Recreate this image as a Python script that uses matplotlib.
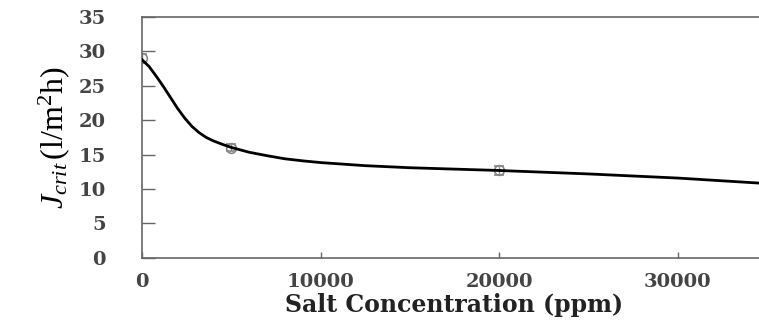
import matplotlib
matplotlib.use("Agg")
import matplotlib.pyplot as plt

plt.rcParams.update({
    "font.family": "DejaVu Serif",
    "mathtext.fontset": "custom",
    "mathtext.rm": "Liberation Serif",
    "mathtext.it": "Liberation Serif:italic",
})

# measured points with error bars
salt_ppm = [0, 5000, 20000, 35000]
j_crit = [29.0, 16.0, 12.7, 11.0]
j_err = [0.6, 0.5, 0.7, 0.4]

# fitted curve
curve_ppm = [0, 400, 800, 1200, 1600, 2000, 2400, 2800, 3200, 3600, 4000,
             4500, 5000, 5500, 6000, 7000, 8000, 9000, 10000, 12500, 15000,
             17500, 20000, 22500, 25000, 27500, 30000, 32500, 35000]
curve_j = [28.8, 27.8, 26.4, 24.9, 23.3, 21.7, 20.3, 19.1, 18.2, 17.5, 17.0,
           16.5, 16.05, 15.7, 15.35, 14.85, 14.4, 14.1, 13.85, 13.4, 13.1,
           12.9, 12.7, 12.45, 12.2, 11.9, 11.6, 11.2, 10.8]

xticks = [0, 10000, 20000, 30000]
yticks = [0, 5, 10, 15, 20, 25, 30, 35]

fig = plt.figure(figsize=(7.59, 3.2), dpi=100)
ax = fig.add_axes([0.187, 0.194, 0.8235, 0.753])

ax.errorbar(salt_ppm, j_crit, yerr=j_err, fmt="o", mfc="none", mec="#888888",
            ecolor="#888888", ms=7, mew=1.2, capsize=3.5, elinewidth=1, zorder=2)
ax.plot(curve_ppm, curve_j, color="black", lw=2.0, zorder=3,
        solid_joinstyle="round")

ax.set_xlim(0, 35000)
ax.set_ylim(0, 35)
ax.set_xticks(xticks)
ax.set_yticks(yticks)
ax.set_xticklabels([str(t) for t in xticks], fontsize=14, fontweight="bold",
                   color="#444444")
ax.set_yticklabels([str(t) for t in yticks], fontsize=14, fontweight="bold",
                   color="#444444")
ax.tick_params(axis="y", direction="in", length=9, width=1, color="#666666", pad=26)
ax.tick_params(axis="x", direction="in", length=4, width=1, color="#666666", pad=11)

for s in ax.spines.values():
    s.set_color("#666666")
    s.set_linewidth(1.2)

ax.set_xlabel("Salt Concentration (ppm)", fontsize=17, fontweight="bold",
              labelpad=1, color="#222222")
ax.set_ylabel(r"$J_{crit}\,(\mathrm{l/m^2h})$", fontsize=23, labelpad=5)

fig.savefig("out.png", dpi=100)
